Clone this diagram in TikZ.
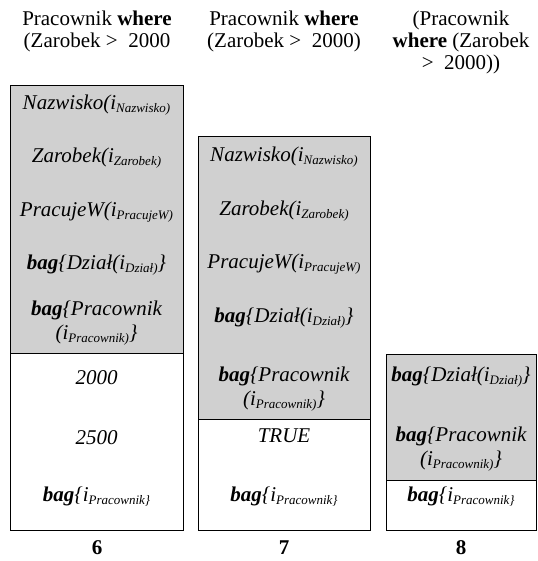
\documentclass[tikz,border=0pt]{standalone}
\usepackage{fontspec}
\setmainfont{Liberation Serif}
\definecolor{cellgray}{RGB}{208,208,208}
% subscript in the Word style: smaller and slightly lowered
\newcommand{\sbs}[1]{\raisebox{-3pt}{\fontsize{13}{13}\selectfont #1}}
\newcommand{\bagkw}{\textbf{bag}}
\newcommand{\itemfont}{\fontsize{21}{24}\selectfont\itshape}
\newcommand{\headfont}{\fontsize{21}{22}\selectfont}
\tikzset{
  cell/.style={draw=black, line width=1pt},
  graycell/.style={cell, fill=cellgray},
  item/.style={font=\itemfont, inner sep=0pt, align=center, anchor=center},
  head/.style={font=\headfont, inner sep=0pt, align=center, anchor=center},
  stacknum/.style={font=\headfont\bfseries, inner sep=0pt, anchor=center},
}
\begin{document}
\begin{tikzpicture}[x=1pt, y=-1pt]
\useasboundingbox (0,0) rectangle (537,561);

% ---- stack 6 ----
\filldraw[graycell] (10,86) rectangle (183,353);
\draw[cell] (10,353) rectangle (183,530);
\node[head] (h6) at (97,31) {Pracownik \textbf{where}\\(Zarobek >\ \ 2000};
\node[item] (a1) at (96.5,105) {Nazwisko(i\sbs{Nazwisko)}};
\node[item] (a2) at (96.5,158) {Zarobek(i\sbs{Zarobek)}};
\node[item] (a3) at (96.5,212) {PracujeW(i\sbs{PracujeW)}};
\node[item] (a4) at (96.5,265) {\bagkw\{Dział(i\sbs{Dział)}\}};
\node[item] (a5) at (96.5,323.5) {\bagkw\{Pracownik\\(i\sbs{Pracownik)}\}};
\node[item] (a6) at (96.5,378) {2000};
\node[item] (a7) at (96.5,438) {2500};
\node[item] (a8) at (96.5,497) {\bagkw\{i\sbs{Pracownik\}}};
\node[stacknum] (n6) at (97,548) {6};

% ---- stack 7 ----
\filldraw[graycell] (198,137) rectangle (370,419);
\draw[cell] (198,419) rectangle (370,530);
\node[head] (h7) at (284,31) {Pracownik \textbf{where}\\(Zarobek >\ \ 2000)};
\node[item] (b1) at (284,157) {Nazwisko(i\sbs{Nazwisko)}};
\node[item] (b2) at (284,211) {Zarobek(i\sbs{Zarobek)}};
\node[item] (b3) at (284,264) {PracujeW(i\sbs{PracujeW)}};
\node[item] (b4) at (284,318) {\bagkw\{Dział(i\sbs{Dział)}\}};
\node[item] (b5) at (284,389) {\bagkw\{Pracownik\\(i\sbs{Pracownik)}\}};
\node[item] (b6) at (284,436) {TRUE};
\node[item] (b7) at (284,497) {\bagkw\{i\sbs{Pracownik\}}};
\node[stacknum] (n7) at (284,548) {7};

% ---- stack 8 ----
\filldraw[graycell] (386,354) rectangle (536,480);
\draw[cell] (386,480) rectangle (536,530);
\node[head] (h8) at (461,42) {(Pracownik\\\textbf{where} (Zarobek\\>\ \ 2000))};
\node[item] (c1) at (461,377) {\bagkw\{Dział(i\sbs{Dział)}\}};
\node[item] (c2) at (461,449.5) {\bagkw\{Pracownik\\(i\sbs{Pracownik)}\}};
\node[item] (c3) at (461,497) {\bagkw\{i\sbs{Pracownik\}}};
\node[stacknum] (n8) at (461,548) {8};
\end{tikzpicture}
\end{document}
